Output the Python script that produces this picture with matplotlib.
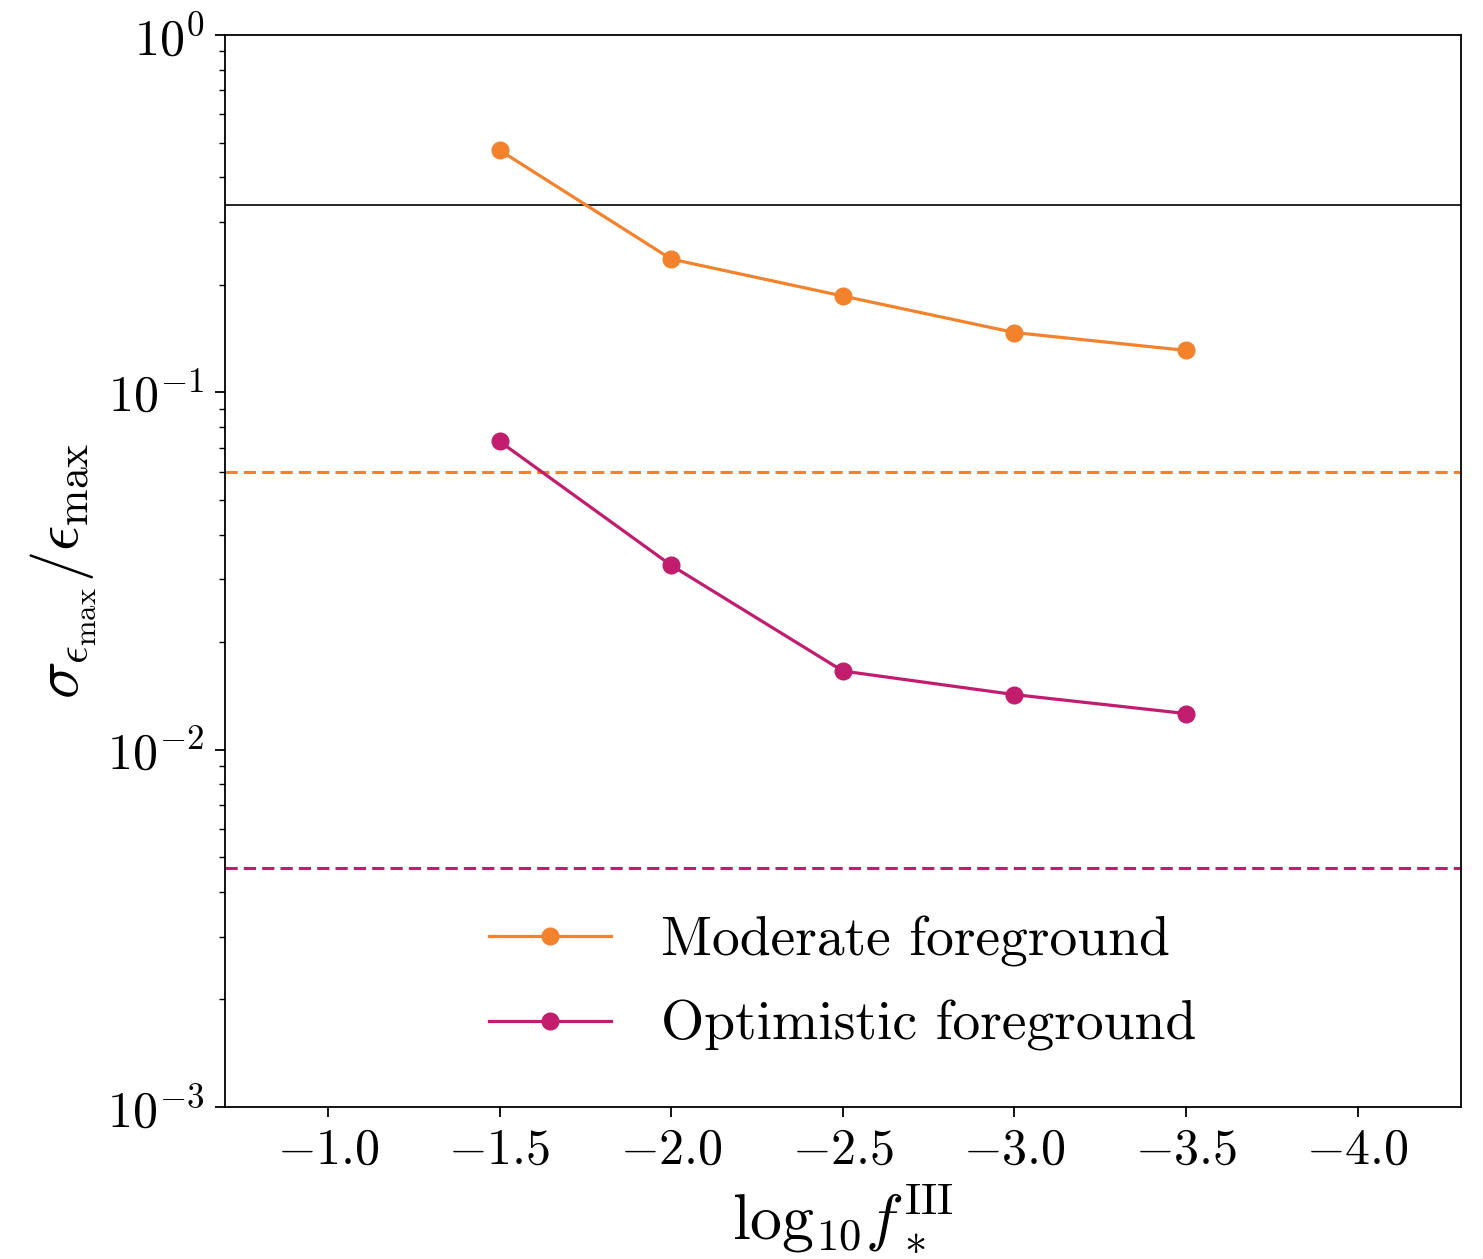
import matplotlib
matplotlib.use("Agg")
import matplotlib.pyplot as plt
from matplotlib.ticker import LogLocator, NullFormatter

plt.rcParams['font.family'] = 'cmr10'
plt.rcParams['mathtext.fontset'] = 'cm'
plt.rcParams['axes.formatter.use_mathtext'] = True

log_fstar = [-1.5, -2.0, -2.5, -3.0, -3.5]
moderate = [0.476, 0.236, 0.186, 0.147, 0.131]
optimistic = [0.0729, 0.0328, 0.0166, 0.01426, 0.01262]
ref_black = 0.334
ref_moderate = 0.0597
ref_optimistic = 0.00468
xticks = [-1.0, -1.5, -2.0, -2.5, -3.0, -3.5, -4.0]

c_mod = '#F4812C'
c_opt = '#C21C6F'

fig = plt.figure(figsize=(14.83, 12.59), dpi=100)
ax = fig.add_axes([0.1517, 0.1207, 0.8333, 0.8515])

ax.axhline(ref_black, color='black', lw=1.2)
ax.axhline(ref_moderate, color=c_mod, lw=2.2, ls='--', dashes=(4, 2))
ax.axhline(ref_optimistic, color=c_opt, lw=2.2, ls='--', dashes=(4, 2))
ax.plot(log_fstar, moderate, '-o', color=c_mod, lw=2.3, ms=12, label='Moderate foreground')
ax.plot(log_fstar, optimistic, '-o', color=c_opt, lw=2.3, ms=12, label='Optimistic foreground')

ax.set_yscale('log')
ax.set_ylim(1e-3, 1e0)
ax.set_xlim(-0.7, -4.3)
ax.set_xticks(xticks)
ax.yaxis.set_major_locator(LogLocator(base=10, numticks=10))
ax.yaxis.set_minor_locator(LogLocator(base=10, subs=range(2, 10), numticks=20))
ax.yaxis.set_minor_formatter(NullFormatter())

ax.tick_params(axis='both', which='major', labelsize=36, length=7, width=1.3, pad=8)
ax.tick_params(axis='y', which='minor', length=4.5, width=1.0)
for s in ax.spines.values():
    s.set_linewidth(1.3)

ax.set_xlabel(r'$\mathrm{log}_{10}f_*^{\rm III}$', fontsize=46, labelpad=6)
ax.set_ylabel(r'$\sigma_{\epsilon_{\rm max}}/\epsilon_{\rm max}$', fontsize=45, labelpad=6)

leg = ax.legend(loc='lower center', frameon=False, fontsize=40, handlelength=2.2,
                handletextpad=0.9, labelspacing=0.6, borderaxespad=0.6)

fig.savefig('out.png', dpi=100)
